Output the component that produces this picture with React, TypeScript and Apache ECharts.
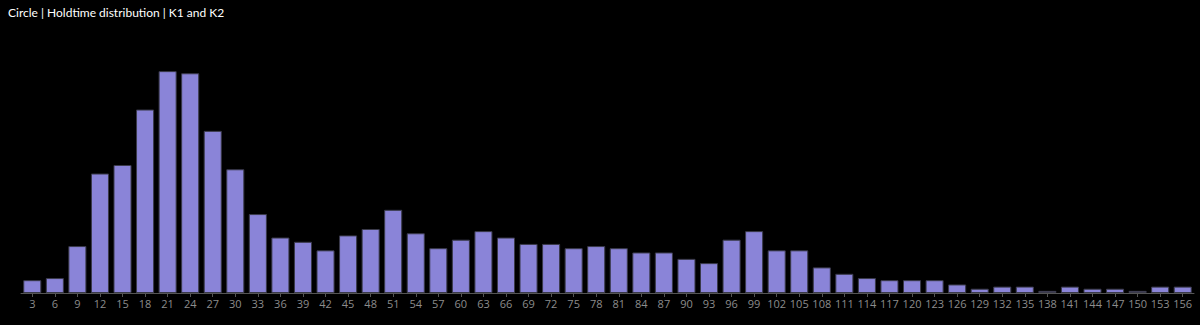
import React, { useEffect, useRef } from "react";
import * as echarts from "echarts";

const categories: string[] = [
  "3","6","9","12","15","18","21","24","27","30","33","36","39","42","45","48","51","54",
  "57","60","63","66","69","72","75","78","81","84","87","90","93","96","99","102","105",
  "108","111","114","117","120","123","126","129","132","135","138","141","144","147","150","153","156",
];

const counts: number[] = [
  6, 7, 22, 56, 60, 86, 104, 103, 76, 58, 37, 26, 24, 20, 27, 30, 39, 28,
  21, 25, 29, 26, 23, 23, 21, 22, 21, 19, 19, 16, 14, 25, 29, 20, 20,
  12, 9, 7, 6, 6, 6, 4, 2, 3, 3, 1, 3, 2, 2, 1, 3, 3,
];

const titleText = "Circle | Holdtime distribution | K1 and K2";

export default function App() {
  const ref = useRef<HTMLDivElement>(null);
  useEffect(() => {
    if (!ref.current) return;
    const chart = echarts.init(ref.current, undefined, { renderer: "svg" });
    chart.setOption({
      animation: false,
      backgroundColor: "#000000",
      title: {
        text: titleText,
        left: 3,
        top: 1,
        textStyle: {
          color: "#ffffff",
          fontSize: 12,
          fontWeight: "normal",
          fontFamily: "Lato",
        },
      },
      grid: { left: 21, right: 6, top: 37, bottom: 32, containLabel: false },
      xAxis: {
        type: "category",
        data: categories,
        axisLine: { lineStyle: { color: "#555555", width: 1 } },
        axisTick: { show: true, alignWithLabel: true, lineStyle: { color: "#555555" }, length: 4 },
        axisLabel: {
          color: "#8c8c8c",
          fontSize: 11,
          fontFamily: "Open Sans",
          interval: 0,
          margin: 5,
        },
      },
      yAxis: {
        type: "value",
        show: false,
        min: 0,
        max: 120,
        splitLine: { show: false },
      },
      series: [
        {
          type: "bar",
          data: counts,
          barCategoryGap: "20%",
          itemStyle: { color: "#8a84d8", borderColor: "#3a3a4a", borderWidth: 1 },
        },
      ],
    });
    return () => chart.dispose();
  }, []);
  return (
    <div
      ref={ref}
      style={{ width: 1200, height: 325, position: "absolute", left: 0, top: 0 }}
    />
  );
}
